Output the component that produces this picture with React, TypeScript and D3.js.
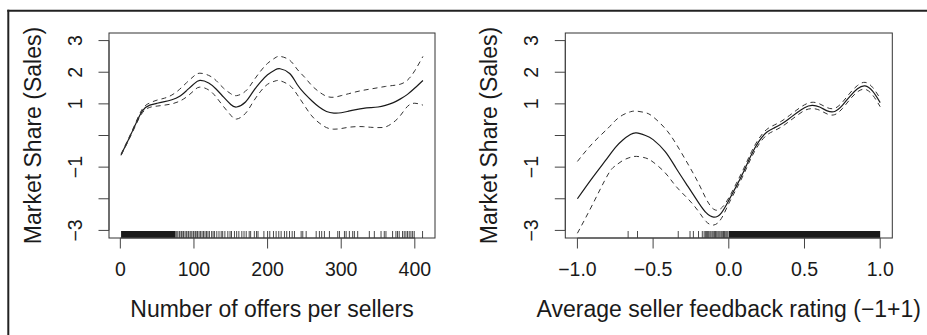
import React from "react";
import * as d3 from "d3";

// ---------- Data ----------
const leftX = [1, 10, 20, 30, 40, 50, 60, 70, 80, 90, 100, 108, 120, 130, 140, 150, 158, 170, 180, 190, 200, 210, 217, 230, 240, 250, 260, 270, 280, 290, 300, 310, 320, 330, 340, 350, 360, 370, 380, 390, 400, 411];
const leftFit = [-0.61, -0.18, 0.32, 0.78, 0.96, 1.02, 1.07, 1.13, 1.23, 1.42, 1.63, 1.74, 1.66, 1.47, 1.22, 0.98, 0.9, 1.06, 1.38, 1.68, 1.92, 2.07, 2.11, 1.96, 1.62, 1.33, 1.1, 0.9, 0.76, 0.71, 0.72, 0.77, 0.82, 0.86, 0.88, 0.9, 0.95, 1.03, 1.15, 1.3, 1.5, 1.74];
const leftUpper = [-0.59, -0.15, 0.36, 0.84, 1.03, 1.12, 1.18, 1.28, 1.45, 1.67, 1.88, 1.97, 1.9, 1.74, 1.5, 1.32, 1.26, 1.4, 1.7, 2.02, 2.28, 2.45, 2.5, 2.38, 2.1, 1.85, 1.58, 1.38, 1.24, 1.21, 1.26, 1.32, 1.38, 1.43, 1.47, 1.51, 1.55, 1.58, 1.62, 1.75, 2.05, 2.5];
const leftLower = [-0.63, -0.21, 0.28, 0.72, 0.89, 0.93, 0.96, 1.0, 1.08, 1.22, 1.42, 1.53, 1.44, 1.22, 0.92, 0.64, 0.52, 0.7, 1.05, 1.38, 1.62, 1.72, 1.73, 1.58, 1.3, 0.95, 0.62, 0.4, 0.25, 0.2, 0.22, 0.26, 0.28, 0.28, 0.26, 0.25, 0.27, 0.4, 0.62, 0.92, 1.02, 0.96];
const leftRugDense = [[1, 75]];
const leftRug = [76, 78, 80, 81, 83, 85, 86, 88, 90, 92, 93, 95, 97, 99, 100, 102, 104, 105, 107, 109, 111, 113, 115, 117, 119, 121, 124, 126, 128, 131, 134, 137, 139, 142, 146, 149, 151, 155, 158, 161, 165, 168, 171, 175, 177, 182, 185, 187, 195, 200, 203, 208, 211.6, 215.2, 218.4, 222.9, 226, 229.8, 233.4, 236.5, 245.6, 247.8, 252.4, 266, 270.4, 273.5, 277.2, 284, 295.3, 297.6, 304.4, 306.7, 311.1, 315.6, 317.9, 322.4, 338.2, 345, 354.1, 358.5, 360.8, 369.8, 374.3, 376.5, 378.8, 383.3, 385.6, 387.9, 390.1, 392.4, 394.7, 397, 399.2, 410.5];
const leftXTicks = [0, 100, 200, 300, 400];

const rightX = [-1.0, -0.9, -0.8, -0.75, -0.7, -0.65, -0.61, -0.55, -0.5, -0.42, -0.35, -0.27, -0.2, -0.15, -0.1, -0.05, 0.0, 0.05, 0.1, 0.15, 0.2, 0.25, 0.3, 0.35, 0.4, 0.45, 0.5, 0.55, 0.6, 0.65, 0.7, 0.75, 0.8, 0.85, 0.9, 0.95, 1.0];
const rightFit = [-2.0, -1.33, -0.7, -0.38, -0.14, 0.03, 0.08, 0.0, -0.13, -0.51, -1.02, -1.61, -2.12, -2.44, -2.58, -2.45, -2.05, -1.6, -1.12, -0.6, -0.18, 0.1, 0.24, 0.37, 0.54, 0.72, 0.88, 0.95, 0.9, 0.78, 0.76, 0.95, 1.24, 1.48, 1.57, 1.4, 1.04];
const rightUpper = [-0.82, -0.25, 0.22, 0.47, 0.65, 0.75, 0.77, 0.72, 0.59, 0.22, -0.25, -0.9, -1.51, -2.0, -2.33, -2.3, -1.97, -1.51, -1.03, -0.51, -0.09, 0.19, 0.33, 0.46, 0.63, 0.81, 0.97, 1.05, 1.0, 0.88, 0.86, 1.05, 1.34, 1.58, 1.68, 1.52, 1.17];
const rightLower = [-3.09, -2.18, -1.25, -0.96, -0.79, -0.69, -0.66, -0.71, -0.84, -1.18, -1.6, -2.0, -2.4, -2.72, -2.83, -2.63, -2.15, -1.69, -1.21, -0.69, -0.27, 0.01, 0.15, 0.28, 0.45, 0.63, 0.79, 0.85, 0.8, 0.68, 0.66, 0.85, 1.14, 1.38, 1.46, 1.28, 0.91];
const rightRugDense = [[0, 1]];
const rightRug = [-0.665, -0.603, -0.334, -0.256, -0.234, -0.2, -0.175, -0.163, -0.155, -0.148, -0.14, -0.133, -0.125, -0.118, -0.11, -0.103, -0.095, -0.088, -0.08, -0.072, -0.065, -0.058, -0.05, -0.043, -0.035, -0.028, -0.02, -0.013, -0.006];
const rightXTicks = [-1.0, -0.5, 0.0, 0.5, 1.0];
const rightXTickLabels = ["\u22121.0", "\u22120.5", "0.0", "0.5", "1.0"];

const yTicks = [3, 2, 1, 0, -1, -2, -3];
const yTickLabels = ["3", "2", "1", "", "\u22121", "", "\u22123"];
const yTitle = "Market Share (Sales)";
const leftTitle = "Number of offers per sellers";
const rightTitle = "Average seller feedback rating (\u22121+1)";

const FONT = "'Liberation Sans', Arial, Helvetica, sans-serif";
const INK = "#1a1a1a";

function Panel({ id, x0, x1, xDomain, xs, fit, upper, lower, rug, rugDense, xTicks, xTickLabels, title }: any) {
  const top = 33, bottom = 238;
  const x = d3.scaleLinear().domain(xDomain).range([x0, x1]);
  const y = d3.scaleLinear().domain([-3.24, 3.24]).range([bottom, top]);
  const mk = (vals: number[]) =>
    d3.line<number>().x((_, i) => x(xs[i])).y((v) => y(v)).curve(d3.curveNatural)(vals) as string;
  const tickLen = 10.5;
  const rugLen = 7;
  const cx = (x0 + x1) / 2;
  const cy = (top + bottom) / 2;
  return (
    <g>
      <defs>
        <clipPath id={id}>
          <rect x={x0} y={top} width={x1 - x0} height={bottom - top} />
        </clipPath>
      </defs>
      {rugDense.map((r: number[], i: number) => (
        <rect key={"rd" + i} x={x(r[0])} y={bottom - rugLen} width={x(r[1]) - x(r[0])} height={rugLen} fill={INK} />
      ))}
      {rug.map((v: number, i: number) => (
        <line key={"r" + i} x1={x(v)} x2={x(v)} y1={bottom} y2={bottom - rugLen} stroke={INK} strokeWidth={0.8} />
      ))}
      <g clipPath={`url(#${id})`}>
        <path d={mk(fit)} fill="none" stroke={INK} strokeWidth={1.2} />
        <path d={mk(upper)} fill="none" stroke="#333" strokeWidth={1} strokeDasharray="5,4" />
        <path d={mk(lower)} fill="none" stroke="#333" strokeWidth={1} strokeDasharray="5,4" />
      </g>
      <rect x={x0} y={top} width={x1 - x0} height={bottom - top} fill="none" stroke="#333" strokeWidth={1} />
      <line x1={x0} x2={x0} y1={y(3)} y2={y(-3)} stroke="#444" strokeWidth={1} />
      {yTicks.map((t, i) => (
        <g key={"yt" + i}>
          <line x1={x0 - tickLen} x2={x0} y1={y(t)} y2={y(t)} stroke="#444" strokeWidth={1} />
          {yTickLabels[i] && (
            <text
              transform={`translate(${x0 - 27.5},${y(t)}) rotate(-90)`}
              textAnchor="middle"
              fontFamily={FONT}
              fontSize={19.5}
              fill={INK}
            >
              {yTickLabels[i]}
            </text>
          )}
        </g>
      ))}
      <line x1={x(xTicks[0])} x2={x(xTicks[xTicks.length - 1])} y1={bottom} y2={bottom} stroke="#444" strokeWidth={1} />
      {xTicks.map((t: number, i: number) => (
        <g key={"xt" + i}>
          <line x1={x(t)} x2={x(t)} y1={bottom} y2={bottom + tickLen} stroke="#444" strokeWidth={1} />
          <text x={x(t)} y={275.5} textAnchor="middle" fontFamily={FONT} fontSize={19.5} fill={INK}>
            {xTickLabels[i]}
          </text>
        </g>
      ))}
      <text x={cx} y={316.5} textAnchor="middle" fontFamily={FONT} fontSize={23} fill={INK}>
        {title}
      </text>
      <text
        transform={`translate(${x0 - 68.5},${cy}) rotate(-90)`}
        textAnchor="middle"
        fontFamily={FONT}
        fontSize={23}
        fill={INK}
      >
        {yTitle}
      </text>
    </g>
  );
}

export default function App() {
  return (
    <svg
      width={927}
      height={335}
      style={{ position: "absolute", left: 0, top: 0, background: "#fff" }}
    >
      <rect x={0} y={0} width={927} height={335} fill="#fff" />
      <line x1={8.3} x2={8.3} y1={9.7} y2={335} stroke="#222" strokeWidth={2} />
      <line x1={7.3} x2={927} y1={10.7} y2={10.7} stroke="#222" strokeWidth={2} />
      <Panel
        id="clipL"
        x0={109}
        x1={435}
        xDomain={[-15.4, 427.4]}
        xs={leftX}
        fit={leftFit}
        upper={leftUpper}
        lower={leftLower}
        rug={leftRug}
        rugDense={leftRugDense}
        xTicks={leftXTicks}
        xTickLabels={leftXTicks.map(String)}
        title={leftTitle}
      />
      <Panel
        id="clipR"
        x0={565.3}
        x1={892.3}
        xDomain={[-1.08, 1.08]}
        xs={rightX}
        fit={rightFit}
        upper={rightUpper}
        lower={rightLower}
        rug={rightRug}
        rugDense={rightRugDense}
        xTicks={rightXTicks}
        xTickLabels={rightXTickLabels}
        title={rightTitle}
      />
    </svg>
  );
}
